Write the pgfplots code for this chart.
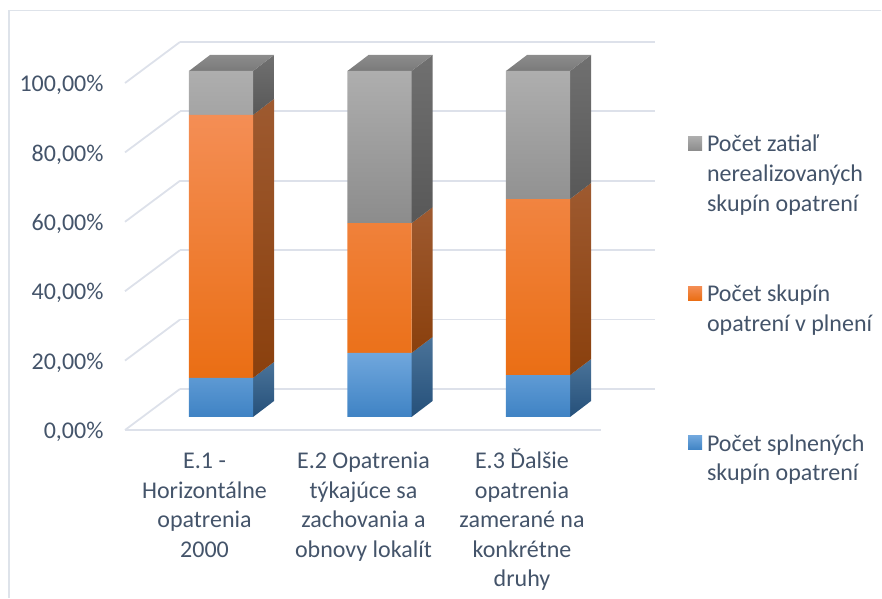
\documentclass[border=0pt]{standalone}
\usepackage{pgfplots}
\usepackage{pgfplotstable}
\usepackage{fontspec}
\setmainfont{Carlito}
\pgfplotsset{compat=1.18}
\definecolor{txt}{HTML}{44546A}
\definecolor{gridc}{HTML}{DDE1EA}
\definecolor{frm}{HTML}{DEE3EA}
\pgfplotstableread{
k blue orange gray
1 11.3 76.0 12.7
2 18.5 37.5 44.0
3 12.1 50.9 37.0
}\shares
\pgfplotsset{
 frameaxis/.style={
  scale only axis, width=530pt, height=388pt,
  at={(125pt,168pt)}, anchor=south west,
  xmin=0.3943, xmax=3.7382, clip=false,
  axis line style={draw=none}, tick style={draw=none},
  ticklabel style={text=txt},
 },
 grd/.style={gridc, line width=1.8pt, forget plot, no markers},
 bluefront/.style={draw=none, top color=blF1, middle color=blF2, bottom color=blF3},
 orangefront/.style={draw=none, top color=orF1, middle color=orF2, bottom color=orF3},
 grayfront/.style={draw=none, top color=grF1, middle color=grF2, bottom color=grF3},
 blueside/.style={draw=none, top color=blS1, bottom color=blS2, forget plot, no markers},
 orangeside/.style={draw=none, top color=orS1, bottom color=orS2, forget plot, no markers},
 grayside/.style={draw=none, top color=grS1, bottom color=grS2, forget plot, no markers},
 grayroof/.style={draw=none, top color=grT1, bottom color=grT2, forget plot, no markers},
}
\definecolor{blF1}{HTML}{70A7DD}\definecolor{blF2}{HTML}{5699DC}\definecolor{blF3}{HTML}{3F83C4}
\definecolor{orF1}{HTML}{F48E55}\definecolor{orF2}{HTML}{FF8028}\definecolor{orF3}{HTML}{EA6E14}
\definecolor{grF1}{HTML}{AEAEAE}\definecolor{grF2}{HTML}{A3A3A3}\definecolor{grF3}{HTML}{8C8C8C}
\definecolor{blS1}{HTML}{4A7399}\definecolor{blS2}{HTML}{25507A}
\definecolor{orS1}{HTML}{9E5A30}\definecolor{orS2}{HTML}{8A400D}
\definecolor{grS1}{HTML}{707070}\definecolor{grS2}{HTML}{585858}
\definecolor{grT1}{HTML}{8C8C8C}\definecolor{grT2}{HTML}{7A7A7A}
\newcommand{\lab}{\fontsize{24}{29.6}\selectfont}
\newcommand{\legtxt}[1]{\parbox[t]{170pt}{\raggedright\lab\color{txt}#1}}
\newcommand{\fl}{\rule{0pt}{22pt}}
\begin{document}
\begin{tikzpicture}[x=1pt,y=1pt]
\path (0,0) rectangle (882,598);
\draw[frm, line width=1.8pt] (9,0) -- (9,587.5) -- (881,587.5);
% walls
\begin{axis}[frameaxis,
  ymin=0, ymax=111.82,
  ytick={0,20,40,60,80,100},
  yticklabels={{0,00\%},{20,00\%},{40,00\%},{60,00\%},{80,00\%},{100,00\%}},
  yticklabel style={font=\lab, anchor=east, xshift=-18pt, yshift=-2pt},
  xtick={0.896,1.899,2.899},
  xticklabels={{\fl E.1 -\\Horizontálne\\opatrenia\\2000},{\fl E.2 Opatrenia\\týkajúce sa\\zachovania a\\obnovy lokalít},{\fl E.3 Ďalšie\\opatrenia\\zamerané na\\konkrétne\\druhy}},
  xticklabel style={font=\lab, align=center, anchor=north, yshift=-13pt},
]
\addplot[grd] coordinates {(0.7413,11.82) (3.7382,11.82)};
\addplot[grd] coordinates {(0.7413,31.82) (3.7382,31.82)};
\addplot[grd] coordinates {(0.7413,51.82) (3.7382,51.82)};
\addplot[grd] coordinates {(0.7413,71.82) (3.7382,71.82)};
\addplot[grd] coordinates {(0.7413,91.82) (3.7382,91.82)};
\addplot[grd] coordinates {(0.7413,111.82) (3.7382,111.82)};
\addplot[grd] coordinates {(0.3943,0) (0.7413,11.82)};
\addplot[grd] coordinates {(0.3943,20) (0.7413,31.82)};
\addplot[grd] coordinates {(0.3943,40) (0.7413,51.82)};
\addplot[grd] coordinates {(0.3943,60) (0.7413,71.82)};
\addplot[grd] coordinates {(0.3943,80) (0.7413,91.82)};
\addplot[grd] coordinates {(0.3943,100) (0.7413,111.82)};
\addplot[grd] coordinates {(0.3943,0) (3.397,0)};
\end{axis}
% side and top faces of the bars
\begin{axis}[frameaxis, ymin=-3.757, ymax=108.38, xtick=\empty, ytick=\empty]
\addplot[blueside] coordinates {(1.202,0) (1.3345,4.62) (1.3345,15.92) (1.202,11.3)} -- cycle;
\addplot[orangeside] coordinates {(1.202,11.3) (1.3345,15.92) (1.3345,91.92) (1.202,87.3)} -- cycle;
\addplot[grayside] coordinates {(1.202,87.3) (1.3345,91.92) (1.3345,104.62) (1.202,100)} -- cycle;
\addplot[grayroof] coordinates {(0.798,100) (0.9305,104.62) (1.3345,104.62) (1.202,100)} -- cycle;
\addplot[blueside] coordinates {(2.202,0) (2.3345,4.62) (2.3345,23.12) (2.202,18.5)} -- cycle;
\addplot[orangeside] coordinates {(2.202,18.5) (2.3345,23.12) (2.3345,60.62) (2.202,56)} -- cycle;
\addplot[grayside] coordinates {(2.202,56) (2.3345,60.62) (2.3345,104.62) (2.202,100)} -- cycle;
\addplot[grayroof] coordinates {(1.798,100) (1.9305,104.62) (2.3345,104.62) (2.202,100)} -- cycle;
\addplot[blueside] coordinates {(3.202,0) (3.3345,4.62) (3.3345,16.72) (3.202,12.1)} -- cycle;
\addplot[orangeside] coordinates {(3.202,12.1) (3.3345,16.72) (3.3345,67.62) (3.202,63)} -- cycle;
\addplot[grayside] coordinates {(3.202,63) (3.3345,67.62) (3.3345,104.62) (3.202,100)} -- cycle;
\addplot[grayroof] coordinates {(2.798,100) (2.9305,104.62) (3.3345,104.62) (3.202,100)} -- cycle;
\end{axis}
% front faces and legend
\begin{axis}[frameaxis, ymin=-3.757, ymax=108.38, xtick=\empty, ytick=\empty,
  ybar stacked, bar width=0.404, bar shift=0pt,
  reverse legend,
  legend cell align=left,
  legend style={draw=none, fill=none, inner sep=0pt, outer sep=0pt,
     anchor=north west, at={(axis description cs:1.0623,0.760)},
     row sep=134.5pt, column sep=5pt, nodes={inner sep=0pt}},
  legend image code/.code={\path[#1] (0pt,-14.5pt) rectangle (14pt,-0.5pt);},
]
\addplot[bluefront] table[x=k,y=blue] {\shares};
\addplot[orangefront] table[x=k,y=orange] {\shares};
\addplot[grayfront] table[x=k,y=gray] {\shares};
\addlegendentry{\legtxt{Počet splnených\\skupín opatrení}}
\addlegendentry{\legtxt{Počet skupín\\opatrení v plnení}}
\addlegendentry{\legtxt{Počet zatiaľ\\nerealizovaných\\skupín opatrení}}
\end{axis}
\end{tikzpicture}
\end{document}
